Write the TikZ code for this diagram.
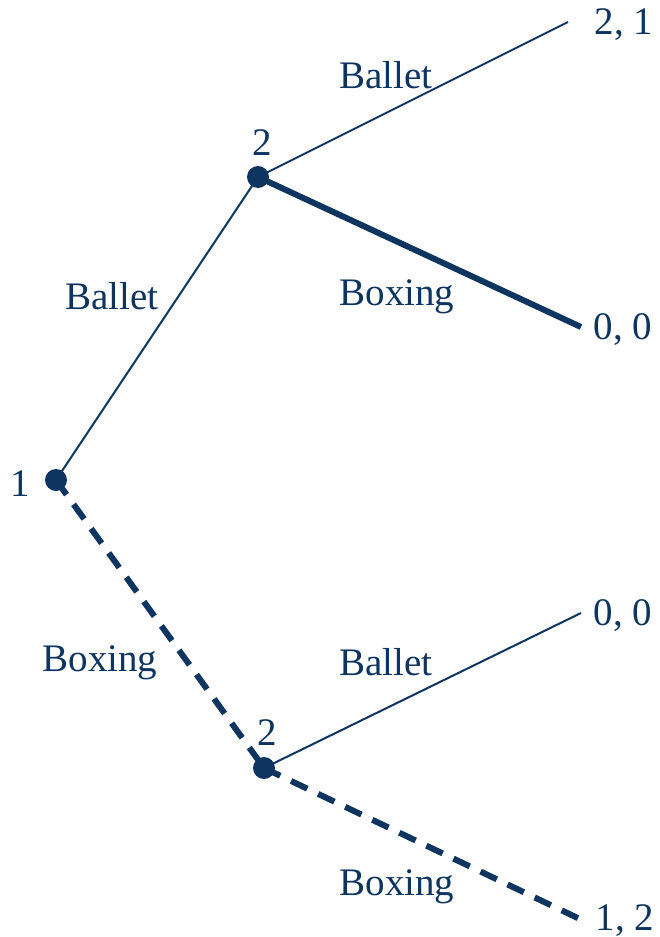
\documentclass[tikz,border=0pt]{standalone}
\usepackage{fontspec}
\setmainfont{Liberation Serif}
\definecolor{navy}{HTML}{0D3560}
\begin{document}
\begin{tikzpicture}[x=0.5pt,y=-0.5pt,
  every node/.style={text=navy,font=\fontsize{19.5}{23}\selectfont},
  thinedge/.style={draw=navy,line width=1pt},
  boldedge/.style={draw=navy,line width=3pt},
  dashedge/.style={draw=navy,line width=3pt,dash pattern=on 9pt off 6pt},
  dot/.style={circle,fill=navy,inner sep=0pt,minimum size=11pt}]
\useasboundingbox (0,0) rectangle (659,937);
\node[dot] (r) at (56,480) {};
\node[dot] (u) at (258,177) {};
\node[dot] (l) at (264,768) {};
\coordinate (uu) at (568,22);
\coordinate (ul) at (581,327);
\coordinate (lu) at (581,613);
\coordinate (ll) at (584,921);
\draw[thinedge] (r.center) -- (u.center);
\draw[dashedge] (r.center) -- (l.center);
\draw[thinedge] (u.center) -- (uu);
\draw[boldedge] (u.center) -- (ul);
\draw[thinedge] (l.center) -- (lu);
\draw[dashedge] (l.center) -- (ll);
\node (t1) at (20,484) {1};
\node (t2) at (262,143) {2};
\node (t3) at (267,733) {2};
\node (a1) at (112,296) {Ballet};
\node (a2) at (100,663) {Boxing};
\node (a3) at (386,75) {Ballet};
\node (a4) at (397,297) {Boxing};
\node (a5) at (386,662) {Ballet};
\node (a6) at (397,887) {Boxing};
\node (p1) at (624,25) {2, 1};
\node (p2) at (623,330) {0, 0};
\node (p3) at (623,616) {0, 0};
\node (p4) at (625,921) {1, 2};
\end{tikzpicture}
\end{document}
